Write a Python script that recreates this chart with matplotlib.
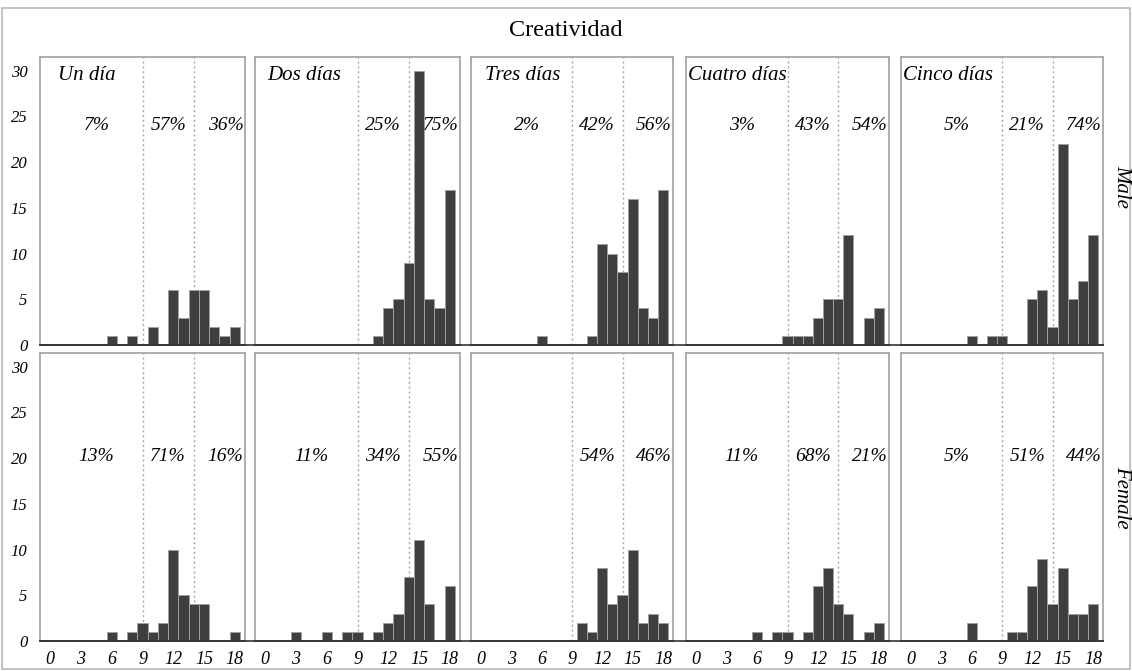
import numpy as np
import matplotlib
matplotlib.use("Agg")
import matplotlib.pyplot as plt
from matplotlib.lines import Line2D
from matplotlib.patches import Rectangle

# score values 0..18
scores = list(range(0, 19))
xticks = [0, 3, 6, 9, 12, 15, 18]
yticks = [0, 5, 10, 15, 20, 25, 30]
days = ["Un día", "Dos días", "Tres días", "Cuatro días", "Cinco días"]
rows = ["Male", "Female"]

# counts per score, male
male_1 = [0, 0, 0, 0, 0, 0, 1, 0, 1, 0, 2, 0, 6, 3, 6, 6, 2, 1, 2]
male_2 = [0, 0, 0, 0, 0, 0, 0, 0, 0, 0, 0, 1, 4, 5, 9, 30, 5, 4, 17]
male_3 = [0, 0, 0, 0, 0, 0, 1, 0, 0, 0, 0, 1, 11, 10, 8, 16, 4, 3, 17]
male_4 = [0, 0, 0, 0, 0, 0, 0, 0, 0, 1, 1, 1, 3, 5, 5, 12, 0, 3, 4]
male_5 = [0, 0, 0, 0, 0, 0, 1, 0, 1, 1, 0, 0, 5, 6, 2, 22, 5, 7, 12]

# counts per score, female
female_1 = [0, 0, 0, 0, 0, 0, 1, 0, 1, 2, 1, 2, 10, 5, 4, 4, 0, 0, 1]
female_2 = [0, 0, 0, 1, 0, 0, 1, 0, 1, 1, 0, 1, 2, 3, 7, 11, 4, 0, 6]
female_3 = [0, 0, 0, 0, 0, 0, 0, 0, 0, 0, 2, 1, 8, 4, 5, 10, 2, 3, 2]
female_4 = [0, 0, 0, 0, 0, 0, 1, 0, 1, 1, 0, 1, 6, 8, 4, 3, 0, 1, 2]
female_5 = [0, 0, 0, 0, 0, 0, 2, 0, 0, 0, 1, 1, 6, 9, 4, 8, 3, 3, 4]

# percentages low / mid / high
male_pct = [["7%", "57%", "36%"], ["", "25%", "75%"], ["2%", "42%", "56%"],
            ["3%", "43%", "54%"], ["5%", "21%", "74%"]]
female_pct = [["13%", "71%", "16%"], ["11%", "34%", "55%"], ["", "54%", "46%"],
              ["11%", "68%", "21%"], ["5%", "51%", "44%"]]

cutoffs = [9, 14]

counts = [[male_1, male_2, male_3, male_4, male_5],
          [female_1, female_2, female_3, female_4, female_5]]
pcts = [male_pct, female_pct]

# serif italic everywhere, title overrides style
plt.rcParams["font.family"] = ["Liberation Serif", "DejaVu Serif"]
plt.rcParams["font.style"] = "italic"

W, H = 1132, 671
fig = plt.figure(figsize=(W / 100, H / 100), dpi=100)

col_left = [40, 255, 471, 686, 901]
col_w = [205, 205, 202, 203, 202]
row_top = [57, 353]
row_bot = [345, 641]
title_x = [0.09, 0.06, 0.07, 0.01, 0.01]
pct_x = [4.5, 11.5, 17.1]
pct_y = [24.0, 20.2]

border = "#a0a0a0"
bar_col = "#3f3f3f"

for r in range(2):
    for c in range(5):
        x0 = col_left[c] / W
        y0 = 1 - row_bot[r] / H
        ax = fig.add_axes([x0, y0, col_w[c] / W, (row_bot[r] - row_top[r]) / H])
        ax.bar(scores, counts[r][c], width=1.0, color=bar_col,
               edgecolor="#a0a0a0", linewidth=0.7, zorder=3)
        for v in cutoffs:
            ax.axvline(v, color="#a8a8a8", linestyle=(0, (1.5, 2)), linewidth=1.0, zorder=2)
        ax.set_xlim(-1, 19)
        ax.set_ylim(0, 31.5)
        for s in ["left", "right", "top"]:
            ax.spines[s].set_color(border)
            ax.spines[s].set_linewidth(1.2)
        ax.spines["bottom"].set_color("#333333")
        ax.spines["bottom"].set_linewidth(1.2)
        ax.set_xticks(xticks)
        ax.set_yticks(yticks)
        ax.tick_params(axis="x", length=0, pad=7, labelsize=13,
                       labelbottom=(r == 1))
        ax.tick_params(axis="y", length=0, pad=9, labelsize=12,
                       labelleft=(c == 0))
        if r == 0:
            ax.text(title_x[c], 0.935, days[c], transform=ax.transAxes,
                    fontsize=15, va="center", ha="left")
        for k in range(3):
            if pcts[r][c][k]:
                ax.text(pct_x[k], pct_y[r], pcts[r][c][k],
                        fontsize=14, ha="center", va="center")

# baseline across the gaps between panels
for r in range(2):
    yb = 1 - row_bot[r] / H
    fig.add_artist(Line2D([col_left[0] / W, (col_left[4] + col_w[4]) / W], [yb, yb],
                          color="#333333", linewidth=1.2, transform=fig.transFigure))

# row labels
fig.text(1122 / W, 1 - 186 / H, rows[0], rotation=-90,
         fontsize=15, ha="center", va="center")
fig.text(1122 / W, 1 - 497 / H, rows[1], rotation=-90,
         fontsize=15, ha="center", va="center")

fig.text(0.5, 1 - 31 / H, "Creatividad", style="normal", fontsize=17.5,
         ha="center", va="center")

# outer frame
fig.add_artist(Rectangle((2 / W, 2 / H), 1 - 4 / W, 1 - 10 / H, fill=False,
                         edgecolor="#b8b8b8", linewidth=1.2, transform=fig.transFigure))

fig.savefig("out.png", dpi=100)
